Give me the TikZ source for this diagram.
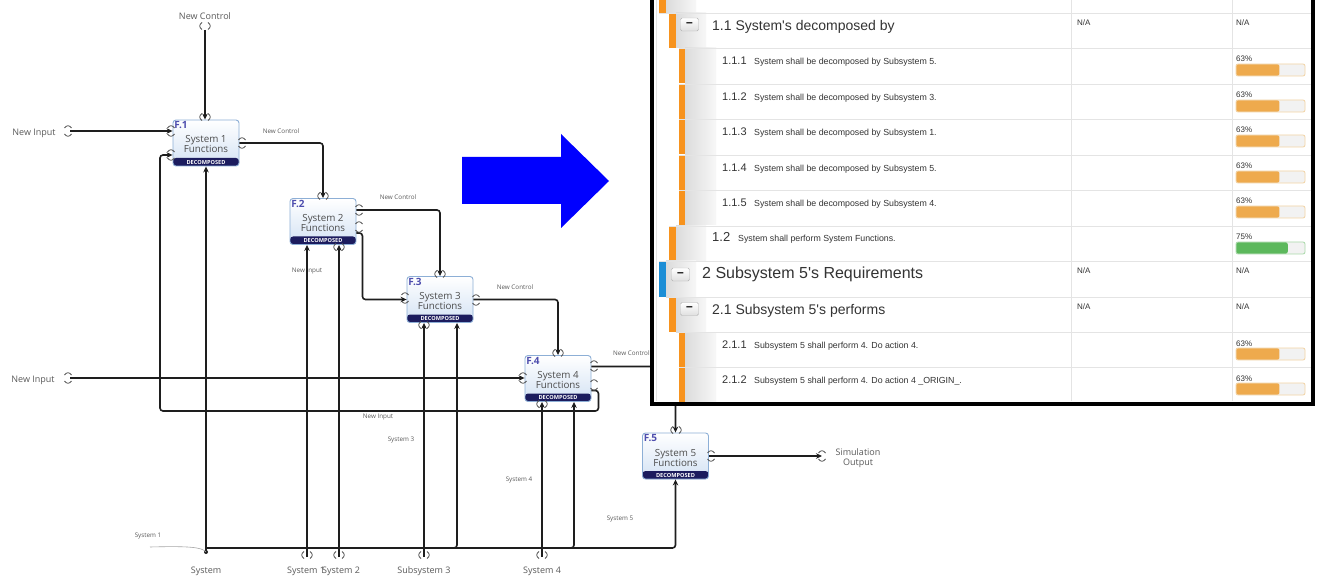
\documentclass[tikz,border=0pt]{standalone}
\usepackage{fontspec}
\setmainfont{Open Sans}
\newfontfamily\arialfont{Liberation Sans}
\usetikzlibrary{arrows.meta}

\definecolor{linecol}{HTML}{1E1E1E}
\definecolor{txtgray}{HTML}{5A5A5A}
\definecolor{boxedge}{HTML}{8DAFD6}
\definecolor{boxblue}{HTML}{D3E2F4}
\definecolor{bandnavy}{HTML}{1C1C5E}
\definecolor{tagblue}{HTML}{4E4EAE}
\definecolor{arrowblue}{HTML}{0000FF}
\definecolor{orangebar}{HTML}{F7931E}
\definecolor{barorange}{HTML}{EEAA4D}
\definecolor{barorangeedge}{HTML}{F2D3A4}
\definecolor{bargreen}{HTML}{5CB85C}
\definecolor{bargreenedge}{HTML}{A9D9A9}
\definecolor{bargray}{HTML}{F2F2F2}
\definecolor{bluebar}{HTML}{1C8ED6}
\definecolor{gridcol}{HTML}{E4E4E4}
\definecolor{paneltext}{HTML}{333333}

% function block: name, x, y, tag, title
\newcommand\funcbox[5]{%
  \node[func] (#1) at (#2,#3) {};
  \node[ftag] (#1tag) at ([xshift=1.5pt,yshift=-2pt]#1.north west) {#4};
  \node[ftext] (#1txt) at ([yshift=-1.5pt]#1.center) {#5\\Functions};
  \node[fband] (#1band) at ([yshift=4pt]#1.south) {DECOMPOSED};
}
% port marks around a vertical / horizontal line end
\newcommand\vstub[2]{%
  \draw[port] (#1-3,#2-3.5) .. controls (#1-6,#2-1.5) and (#1-6,#2+1.5) .. (#1-3,#2+3.5);
  \draw[port] (#1+3,#2-3.5) .. controls (#1+6,#2-1.5) and (#1+6,#2+1.5) .. (#1+3,#2+3.5);
}
\newcommand\hstub[2]{%
  \draw[port] (#1-3.5,#2-3) .. controls (#1-1.5,#2-6) and (#1+1.5,#2-6) .. (#1+3.5,#2-3);
  \draw[port] (#1-3.5,#2+3) .. controls (#1-1.5,#2+6) and (#1+1.5,#2+6) .. (#1+3.5,#2+3);
}
% progress bar: name, row top, percent, fill, edge
\newcommand\pbar[5]{%
  \node[pct] (#1pct) at (1236,#2+14) {#3\%};
  \draw[#5,fill=bargray,rounded corners=2pt,line width=0.8pt] (1236,#2+16) rectangle (1305,#2+28);
  \fill[#4,rounded corners=2pt] (1236.4,#2+16.4) rectangle (1236+0.69*#3,#2+27.6);
}
% leaf requirement row: name, top, number, text, percent
\newcommand\leafrow[5]{%
  \fill[orangebar] (679,#2) rectangle (685,#2+35);
  \shade[cellshade] (685,#2) rectangle (716,#2+35);
  \draw[grid] (679,#2) -- (1311,#2);
  \node[leafnum] (#1num) at (722,#2+16.5) {#3};
  \node[leafdesc] (#1txt) at (754,#2+16.5) {#4};
  \pbar{#1}{#2}{#5}{barorange}{barorangeedge}
}

\begin{document}
\begin{tikzpicture}[x=1pt,y=-1pt,
  flow/.style={draw=linecol,line width=1.6pt,rounded corners=3pt,-{Stealth[length=6pt,width=5.5pt]}},
  port/.style={draw=linecol!75,line width=0.8pt},
  leader/.style={draw=gray!70,line width=0.6pt},
  lbl/.style={font=\fontsize{9}{10.5}\selectfont,text=txtgray,inner sep=0pt},
  note/.style={font=\fontsize{6.3}{7}\selectfont,text=txtgray,inner sep=0pt},
  func/.style={draw=boxedge,line width=0.9pt,rounded corners=3pt,top color=white,bottom color=boxblue,
    minimum width=66pt,minimum height=46pt,inner sep=0pt,
    path picture={\fill[bandnavy] ([yshift=8pt]path picture bounding box.south west) rectangle (path picture bounding box.south east);}},
  ftag/.style={font=\bfseries\fontsize{10}{10}\selectfont,text=tagblue,inner sep=0pt,anchor=north west},
  ftext/.style={font=\fontsize{9.8}{10}\selectfont,text=txtgray!85!black,align=center,inner sep=0pt},
  fband/.style={font=\bfseries\fontsize{5.6}{6}\selectfont,text=white,inner sep=0pt},
  grid/.style={draw=gridcol,line width=0.8pt},
  cellshade/.style={left color=black!14,right color=black!3},
  btn/.style={draw=gray!60,rounded corners=1.5pt,top color=white,bottom color=gray!25,minimum width=18pt,
    minimum height=13pt,inner sep=0pt,text=black,font=\arialfont\bfseries\fontsize{12}{12}\selectfont},
  head/.style={anchor=base west,inner sep=0pt,text=paneltext,font=\arialfont\fontsize{14}{14}\selectfont},
  leafnum/.style={anchor=base west,inner sep=0pt,text=paneltext,font=\arialfont\fontsize{11}{11}\selectfont},
  leafdesc/.style={anchor=base west,inner sep=0pt,text=paneltext,font=\arialfont\fontsize{8.8}{9}\selectfont},
  pct/.style={anchor=base west,inner sep=0pt,text=paneltext,font=\arialfont\fontsize{8}{8}\selectfont},
  na/.style={anchor=base west,inner sep=0pt,text=paneltext,font=\arialfont\fontsize{8}{8}\selectfont},
]
\clip (0,0) rectangle (1323,580);
\useasboundingbox (0,0) rectangle (1323,580);
\fill[white] (0,0) rectangle (1323,580);

% ---------- function blocks ----------
\funcbox{F1}{206}{143}{F.1}{System 1}
\funcbox{F2}{323}{221.5}{F.2}{System 2}
\funcbox{F3}{440}{299.5}{F.3}{System 3}
\funcbox{F4}{558}{378.5}{F.4}{System 4}
\funcbox{F5}{675.5}{456}{F.5}{System 5}

% ---------- boundary texts and end points ----------
\node[lbl] (ctlname) at (205,16) {New Control};
\coordinate (ctlin) at (205,30);
\node[lbl] (in1name) at (34,133) {New Input};
\coordinate (in1) at (70,131);
\node[lbl] (in2name) at (33,380) {New Input};
\coordinate (in2) at (70,378);
\node[lbl,align=center,font=\fontsize{9}{10}\selectfont] (outname) at (858,458) {Simulation\\Output};
\coordinate (simout) at (822,456);

\node[lbl] (mech0) at (206,571) {System};
\node[lbl] (mech1) at (306,571) {System 1};
\node[lbl] (mech2) at (341,571) {System 2};
\node[lbl] (mech3) at (424,571) {Subsystem 3};
\node[lbl] (mech4) at (542,571) {System 4};
\coordinate (m1) at (307,557);
\coordinate (m2) at (339,557);
\coordinate (m3) at (424,557);
\coordinate (m4) at (542,557);
\coordinate (sysdot) at (206,552);
\coordinate (bus) at (206,548);
\coordinate (fbk) at (160,411);
\coordinate (ldr) at (150,547);

% ---------- arrow labels ----------
\node[note] (l1) at (281,131) {New Control};
\node[note] (l2) at (398,197) {New Control};
\node[note] (l3) at (515,287) {New Control};
\node[note,anchor=west] (l4) at (613,353) {New Control};
\node[note] (l5) at (307,271) {New Input};
\node[note] (l6) at (378,417) {New Input};
\node[note] (l7) at (401,440) {System 3};
\node[note] (l8) at (519,480) {System 4};
\node[note] (l9) at (620,519) {System 5};
\node[note] (l10) at (148,536) {System 1};

% ---------- connectors ----------
\draw[flow] (ctlin) -- (ctlin |- F1.north);
\draw[flow] (in1) -- (in1 -| F1.west);
\draw[flow] (in2) -- (in2 -| F4.west);
\draw[flow] (F1.east) -| (F2.north);
\draw[flow] ([yshift=11.5pt]F2.east) -| (F3.north);
\draw[flow] ([yshift=-11.5pt]F2.east) -- ++(6,0) |- (F3.west);
\draw[flow] (F3.east) -| (F4.north);
\draw[flow] ([yshift=12pt]F4.east) -| (F5.north);
\draw[flow] ([yshift=-12pt]F4.east) -- ++(7,0) |- (fbk) |- ([yshift=-12pt]F1.west);
\draw[flow] (F5.east) -- (simout);

\draw[flow] (sysdot) -- (sysdot |- F1.south);
\draw[flow] (bus) -| (F5.south);
\draw[flow] (bus) -| ([xshift=17pt]F3.south);
\draw[flow] (bus) -| ([xshift=16pt]F4.south);
\draw[flow] (m1) -- (m1 |- F2.south);
\draw[flow] (m2) -- (m2 |- F2.south);
\draw[flow] (m3) -- (m3 |- F3.south);
\draw[flow] (m4) -- (m4 |- F4.south);
\fill[linecol] (sysdot) circle (2);
\draw[leader] (ldr) .. controls (188,546) and (202,547) .. (sysdot);

% ---------- port marks ----------
\vstub{205}{26}
\hstub{68}{131}
\hstub{68}{378}
\hstub{822}{456}
\vstub{307}{555}\vstub{339}{555}\vstub{424}{555}\vstub{542}{555}
% block ports
\vstub{205}{117}\hstub{171}{131}\hstub{171}{155}\hstub{242}{143}
\vstub{323}{196}\hstub{359}{210}\hstub{359}{227}\vstub{339}{247}
\vstub{440}{274}\hstub{405}{298}\hstub{476}{300}\vstub{424}{325}
\vstub{558}{353}\hstub{523}{378}\hstub{594}{366}\hstub{594}{385}\vstub{542}{404}
\vstub{676}{430}\hstub{711}{456}

% ---------- block arrow ----------
\fill[arrowblue] (462,157) -- (561,157) -- (561,134) -- (609,181) -- (561,228) -- (561,204) -- (462,204) -- cycle;

% ---------- requirement panel ----------
\fill[white] (652,-10) rectangle (1313,404);
\draw[gridcol,line width=0.8pt] (656,-5) -- (656,401);
% partial row at the top
\fill[orangebar] (659,-5) rectangle (666,13);
\shade[cellshade] (666,-5) rectangle (696,13);
% 1.1
\fill[orangebar] (669,13) rectangle (676,48);
\shade[cellshade] (676,13) rectangle (706,48);
\draw[grid] (659,13) -- (1311,13);
\node[btn] (b11) at (689.5,24.5) {–};
\node[head] (h11) at (712,31) {1.1 System's decomposed by};
\node[na] (h11a) at (1077,26) {N/A};
\node[na] (h11b) at (1236,26) {N/A};
% leaves
\leafrow{r111}{48}{1.1.1}{System shall be decomposed by Subsystem 5.}{63}
\leafrow{r112}{84}{1.1.2}{System shall be decomposed by Subsystem 3.}{63}
\leafrow{r113}{119}{1.1.3}{System shall be decomposed by Subsystem 1.}{63}
\leafrow{r114}{155}{1.1.4}{System shall be decomposed by Subsystem 5.}{63}
\leafrow{r115}{190}{1.1.5}{System shall be decomposed by Subsystem 4.}{63}
% 1.2
\fill[orangebar] (669,226) rectangle (676,261);
\shade[cellshade] (676,226) rectangle (706,261);
\draw[grid] (669,226) -- (1311,226);
\node[head,font=\arialfont\fontsize{13}{13}\selectfont] (h12) at (712,242) {1.2};
\node[leafdesc] (h12t) at (738,242) {System shall perform System Functions.};
\pbar{r12}{226}{75}{bargreen}{bargreenedge}
% 2
\fill[bluebar] (659,261) rectangle (666,297);
\shade[cellshade] (666,261) rectangle (696,297);
\draw[grid] (659,261) -- (1311,261);
\node[btn] (b2) at (680.5,274.5) {–};
\node[head,font=\arialfont\fontsize{16}{16}\selectfont] (h2) at (702,278.5) {2 Subsystem 5's Requirements};
\node[na] (h2a) at (1077,273) {N/A};
\node[na] (h2b) at (1236,273) {N/A};
% 2.1
\fill[orangebar] (669,297) rectangle (676,332);
\shade[cellshade] (676,297) rectangle (706,332);
\draw[grid] (669,297) -- (1311,297);
\node[btn] (b21) at (689.5,309) {–};
\node[head] (h21) at (712,314) {2.1 Subsystem 5's performs};
\node[na] (h21a) at (1077,309) {N/A};
\node[na] (h21b) at (1236,309) {N/A};
\leafrow{r211}{332}{2.1.1}{Subsystem 5 shall perform 4. Do action 4.}{63}
\leafrow{r212}{367}{2.1.2}{Subsystem 5 shall perform 4. Do action 4 \_ORIGIN\_.}{63}
% columns and frame
\draw[grid] (1071,-5) -- (1071,401);
\draw[grid] (1232,-5) -- (1232,401);
\draw[black,line width=4pt] (652,-10) rectangle (1313,404);
\end{tikzpicture}
\end{document}
